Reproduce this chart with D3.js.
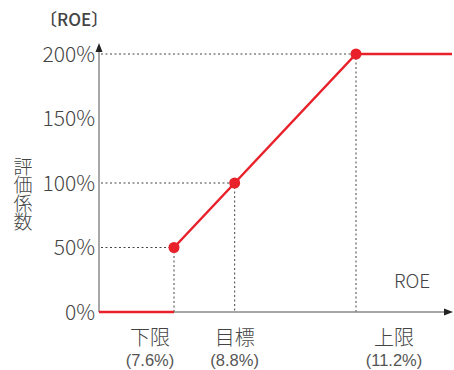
<!DOCTYPE html>
<html>
<head>
<meta charset="utf-8">
<script src="https://cdn.jsdelivr.net/npm/d3@7/dist/d3.min.js"></script>
<style>
  html, body { margin: 0; padding: 0; background: #fff; }
  svg { display: block; }
  text { font-family: "Noto Sans CJK JP", "Noto Sans", sans-serif; fill: #444; }
  text.val { font-family: "Liberation Sans", sans-serif; fill: #555; }
</style>
</head>
<body>
<svg id="chart" width="454" height="370"></svg>
<script>
// ROE thresholds (%) and the evaluation coefficient (%) reached at each
const roeLabels = ["下限", "目標", "上限"];
const roeValues = [7.6, 8.8, 11.2];
const coefValues = [50, 100, 200];
const yTicks = [0, 50, 100, 150, 200];

const svg = d3.select("#chart");
const red = "#e8212b";
const axisGray = "#8a8a8a";

const x = d3.scaleLinear().domain([7.6, 11.2]).range([174, 356]);
const y = d3.scaleLinear().domain([0, 200]).range([312, 54]);

const x0 = 99, x1 = 452;         // axis extents in pixels
const roeMin = x.invert(x0), roeMax = x.invert(x1);

// dashed guides from the y axis to each point and down to the x axis
const guides = svg.append("g")
  .attr("stroke", "#444").attr("stroke-width", 1).attr("stroke-dasharray", "2,2.5");
roeValues.forEach((r, i) => {
  guides.append("line")
    .attr("x1", x0 + 2).attr("x2", x(r))
    .attr("y1", y(coefValues[i])).attr("y2", y(coefValues[i]));
  guides.append("line")
    .attr("x1", x(r)).attr("x2", x(r))
    .attr("y1", y(coefValues[i]) + 4).attr("y2", y(0));
});

// axes with arrow heads
const axisG = svg.append("g");
axisG.append("line")
  .attr("x1", x0).attr("x2", x0).attr("y1", y(0)).attr("y2", 48)
  .attr("stroke", axisGray).attr("stroke-width", 1.5);
axisG.append("path")
  .attr("d", `M${x0},43 L${x0 - 3.5},52 L${x0 + 3.5},52 Z`).attr("fill", "#222");
axisG.append("line")
  .attr("x1", x0).attr("x2", x1 - 4).attr("y1", y(0)).attr("y2", y(0))
  .attr("stroke", axisGray).attr("stroke-width", 1.5);
axisG.append("path")
  .attr("d", `M${x1 + 1},${y(0)} L${x1 - 8},${y(0) - 3.5} L${x1 - 8},${y(0) + 3.5} Z`).attr("fill", "#222");

// y tick labels
svg.append("g").selectAll("text").data(yTicks).join("text")
  .attr("x", 95).attr("y", d => y(d))
  .attr("dy", "0.36em")
  .attr("text-anchor", "end")
  .attr("font-size", 21).attr("font-weight", 300)
  .text(d => d + "%");

// evaluation coefficient curve
const curve = [[roeMin, 0], [roeValues[0], 0]];
const rise = roeValues.map((r, i) => [r, coefValues[i]]).concat([[roeMax, coefValues[2]]]);
const line = d3.line().x(d => x(d[0])).y(d => y(d[1]));
svg.append("path").attr("d", line(curve))
  .attr("fill", "none").attr("stroke", red).attr("stroke-width", 2.5);
svg.append("path").attr("d", line(rise))
  .attr("fill", "none").attr("stroke", red).attr("stroke-width", 2.5);

svg.append("g").selectAll("circle").data(roeValues).join("circle")
  .attr("cx", d => x(d)).attr("cy", (d, i) => y(coefValues[i]))
  .attr("r", 5.5).attr("fill", red);

// category labels under the x axis
const labelShift = [-24, 0, 38];
const lab = svg.append("g").attr("text-anchor", "middle");
lab.selectAll("text.name").data(roeLabels).join("text")
  .attr("class", "name")
  .attr("x", (d, i) => x(roeValues[i]) + labelShift[i]).attr("y", 345)
  .attr("font-size", 20).attr("font-weight", 300)
  .text(d => d);
lab.selectAll("text.val").data(roeValues).join("text")
  .attr("class", "val")
  .attr("x", (d, i) => x(d) + labelShift[i]).attr("y", 366)
  .attr("font-size", 16.5)
  .text(d => "(" + d.toFixed(1) + "%)");

// axis titles
svg.append("text").attr("x", 40).attr("y", 26)
  .attr("font-size", 17).attr("font-weight", 500).text("〔ROE〕");
svg.append("text").attr("x", 412).attr("y", 288)
  .attr("text-anchor", "middle").attr("font-size", 19).attr("font-weight", 300).text("ROE");
svg.append("text")
  .attr("x", 23).attr("y", 157)
  .attr("font-size", 19).attr("font-weight", 300)
  .style("writing-mode", "vertical-rl")
  .style("text-orientation", "upright")
  .style("letter-spacing", "-0.5px")
  .text("評価係数");
</script>
</body>
</html>
